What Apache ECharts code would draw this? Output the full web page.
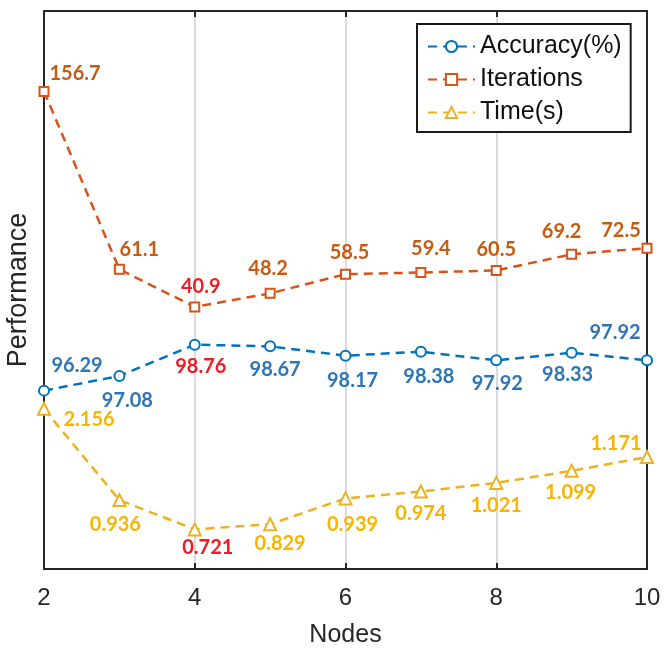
<!DOCTYPE html>
<html><head><meta charset="utf-8">
<script src="https://cdn.jsdelivr.net/npm/echarts@6/dist/echarts.min.js"></script>
<style>html,body{margin:0;padding:0;background:#fff}#c{width:668px;height:658px}</style>
</head><body><div id="c"></div>
<script>
// ---- data ----
const nodes = [2, 3, 4, 5, 6, 7, 8, 9, 10];
const accuracy = [96.29, 97.08, 98.76, 98.67, 98.17, 98.38, 97.92, 98.33, 97.92];
const iterations = [156.7, 61.1, 40.9, 48.2, 58.5, 59.4, 60.5, 69.2, 72.5];
const timeLabels = [2.156, 0.936, 0.721, 0.829, 0.939, 0.974, 1.021, 1.099, 1.171];
// time values as plotted in the figure
const timePlotted = [1.46, 0.93, 0.76, 0.79, 0.94, 0.98, 1.03, 1.10, 1.18];
const xTickLabels = ['2', '4', '6', '8', '10'];
const seriesNames = ['Accuracy(%)', 'Iterations', 'Time(s)'];
const bestIndex = 2;

// ---- layout of the annotations (pixel offsets from each marker) ----
const accOffsets = [[33,-25],[8,25],[6,22],[5,23],[7,25],[8,25],[1,23],[-4,22],[-32,-28]];
const iterOffsets = [[31,-18],[20,-20],[6,-20],[-2,-25],[4,-22],[10,-24],[0,-21],[-10,-23],[-26,-18]];
const timeOffsets = [[45,11],[-4,24],[13,18],[10,19],[7,26],[0,22],[0,23],[-1,22],[-31,-14]];

const RED = '#EE1C25';
const labelFont = {fontFamily: 'Lato', fontWeight: 'bold', fontSize: 20};

function build(vals, labels, offsets, labelColor) {
  return nodes.map((n, i) => ({
    value: [n, vals[i]],
    label: Object.assign({
      show: true, position: 'inside',
      offset: offsets[i],
      color: i === bestIndex ? RED : labelColor,
      formatter: () => String(labels[i])
    }, labelFont)
  }));
}

const chart = echarts.init(document.getElementById('c'), null, {renderer: 'canvas'});
const axisFont = {fontFamily: 'Liberation Sans', color: '#262626'};
const borderLine = {show: true, onZero: false, lineStyle: {color: '#262626', width: 2}};

const lineCommon = {
  type: 'line', clip: false, z: 3,
  emphasis: {disabled: true}
};

chart.setOption({
  animation: false,
  backgroundColor: '#fff',
  grid: {left: 44, right: 21, top: 11, bottom: 89, outerBoundsMode: 'none', containLabel: false},
  legend: {
    orient: 'vertical', left: 417, top: 24,
    padding: [10, 9, 7, 10], itemGap: 8,
    itemWidth: 47, itemHeight: 14,
    borderColor: '#1a1a1a', borderWidth: 2, backgroundColor: '#fff',
    textStyle: {fontFamily: 'Liberation Sans', fontSize: 25, color: '#111'},
    data: seriesNames
  },
  xAxis: [{
    type: 'value', min: 2, max: 10, interval: 2,
    name: 'Nodes', nameLocation: 'middle', nameGap: 54,
    nameTextStyle: Object.assign({fontSize: 25}, axisFont),
    axisLine: borderLine,
    axisTick: {show: true, inside: true, length: 6, lineStyle: {color: '#262626', width: 2}},
    axisLabel: Object.assign({fontSize: 24, margin: 17, formatter: v => xTickLabels.includes(String(v)) ? String(v) : ''}, axisFont),
    splitLine: {show: true, showMinLine: false, showMaxLine: false, lineStyle: {color: '#dadada', width: 2}}
  }, {
    type: 'value', min: 2, max: 10, interval: 2, position: 'top',
    axisLine: borderLine,
    axisTick: {show: true, inside: true, length: 6, lineStyle: {color: '#262626', width: 2}},
    axisLabel: {show: false}, splitLine: {show: false}
  }],
  yAxis: [{
    type: 'value', min: 86.7, max: 116.7, position: 'left',
    name: 'Performance', nameLocation: 'middle', nameGap: 12, nameRotate: 90,
    nameTextStyle: Object.assign({fontSize: 27}, axisFont),
    axisLine: borderLine, axisTick: {show: false}, axisLabel: {show: false}, splitLine: {show: false}
  }, {
    type: 'value', min: -100, max: 200, position: 'right',
    axisLine: borderLine, axisTick: {show: false}, axisLabel: {show: false}, splitLine: {show: false}
  }, {
    type: 'value', min: 0.53, max: 3.77, show: false, splitLine: {show: false}
  }],
  series: [
    Object.assign({}, lineCommon, {
      name: seriesNames[0], yAxisIndex: 0,
      data: build(accuracy, accuracy, accOffsets, '#2E75B6'),
      symbol: 'emptyCircle', symbolSize: 10,
      itemStyle: {color: '#0072BD', borderWidth: 2},
      lineStyle: {color: '#0072BD', width: 2.5, type: [9, 6]}
    }),
    Object.assign({}, lineCommon, {
      name: seriesNames[1], yAxisIndex: 1,
      data: build(iterations, iterations, iterOffsets, '#C55A11'),
      symbol: 'emptyRect', symbolSize: 9,
      itemStyle: {color: '#D95319', borderWidth: 2},
      lineStyle: {color: '#D95319', width: 2.5, type: [9, 6]}
    }),
    Object.assign({}, lineCommon, {
      name: seriesNames[2], yAxisIndex: 2,
      data: build(timePlotted, timeLabels, timeOffsets, '#F7B500'),
      symbol: 'emptyTriangle', symbolSize: 12,
      itemStyle: {color: '#EDB120', borderWidth: 2},
      lineStyle: {color: '#EDB120', width: 2.5, type: [9, 6]}
    })
  ]
});
</script>
</body></html>
